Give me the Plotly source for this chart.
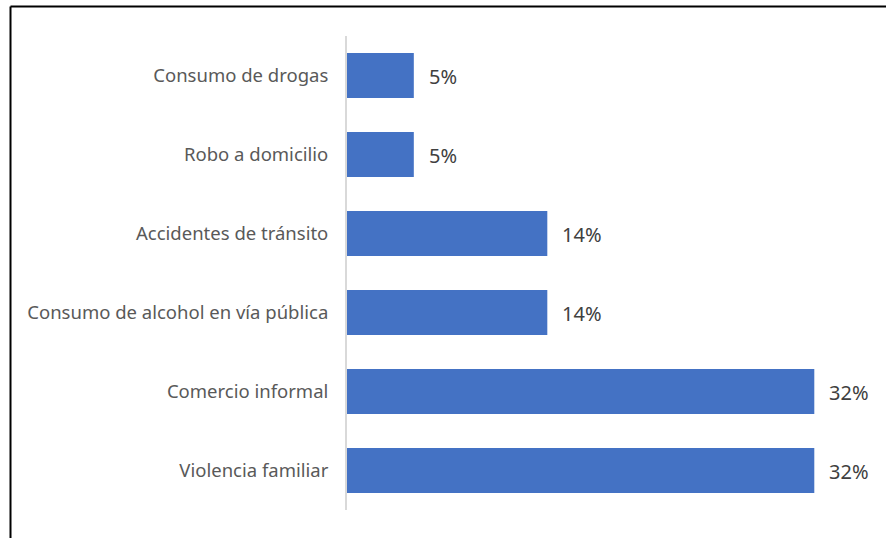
import plotly.graph_objects as go

# Share of reported problems (n = 22 responses), top to bottom
categories = [
    "Consumo de drogas",
    "Robo a domicilio",
    "Accidentes de tránsito",
    "Consumo de alcohol en vía pública",
    "Comercio informal",
    "Violencia familiar",
]
shares = [4.55, 4.55, 13.64, 13.64, 31.82, 31.82]

W, H = 886, 538
ML, MR, MT, MB = 347, 25, 36, 28
pw, ph = W - ML - MR, H - MT - MB

fig = go.Figure(
    go.Bar(
        x=shares,
        y=categories,
        orientation="h",
        marker=dict(color="#4472C4", line=dict(width=0)),
        width=0.57,
        hoverinfo="skip",
    )
)

# value labels placed just right of each bar
for cat, v in zip(categories, shares):
    fig.add_annotation(
        x=v, y=cat, text=f"{v:.0f}%", showarrow=False,
        xanchor="left", xshift=13, yshift=-1,
        font=dict(family="Noto Sans", size=20, color="#404040"),
    )

# frame lines on the left and top edges
def px_x(p):
    return (p - ML) / pw

def px_y(p):
    return (H - MB - p) / ph

frame = dict(color="black", width=2)
fig.add_shape(type="line", xref="paper", yref="paper",
              x0=px_x(10.5), x1=px_x(10.5), y0=px_y(6.5), y1=px_y(H + 2), line=frame)
fig.add_shape(type="line", xref="paper", yref="paper",
              x0=px_x(10.5), x1=px_x(W + 2), y0=px_y(6.5), y1=px_y(6.5), line=frame)

fig.update_layout(
    width=W, height=H,
    margin=dict(l=ML, r=MR, t=MT, b=MB, pad=0),
    paper_bgcolor="white", plot_bgcolor="white",
    showlegend=False,
    xaxis=dict(range=[0, 35], visible=False, fixedrange=True),
    yaxis=dict(
        categoryorder="array", categoryarray=categories[::-1],
        showline=True, linecolor="#d9d9d9", linewidth=2,
        showgrid=False, ticks="", ticklabelstandoff=13,
        tickfont=dict(family="Noto Sans", size=18.5, color="#595959"),
        fixedrange=True,
    ),
)

fig.write_html("out.html")
